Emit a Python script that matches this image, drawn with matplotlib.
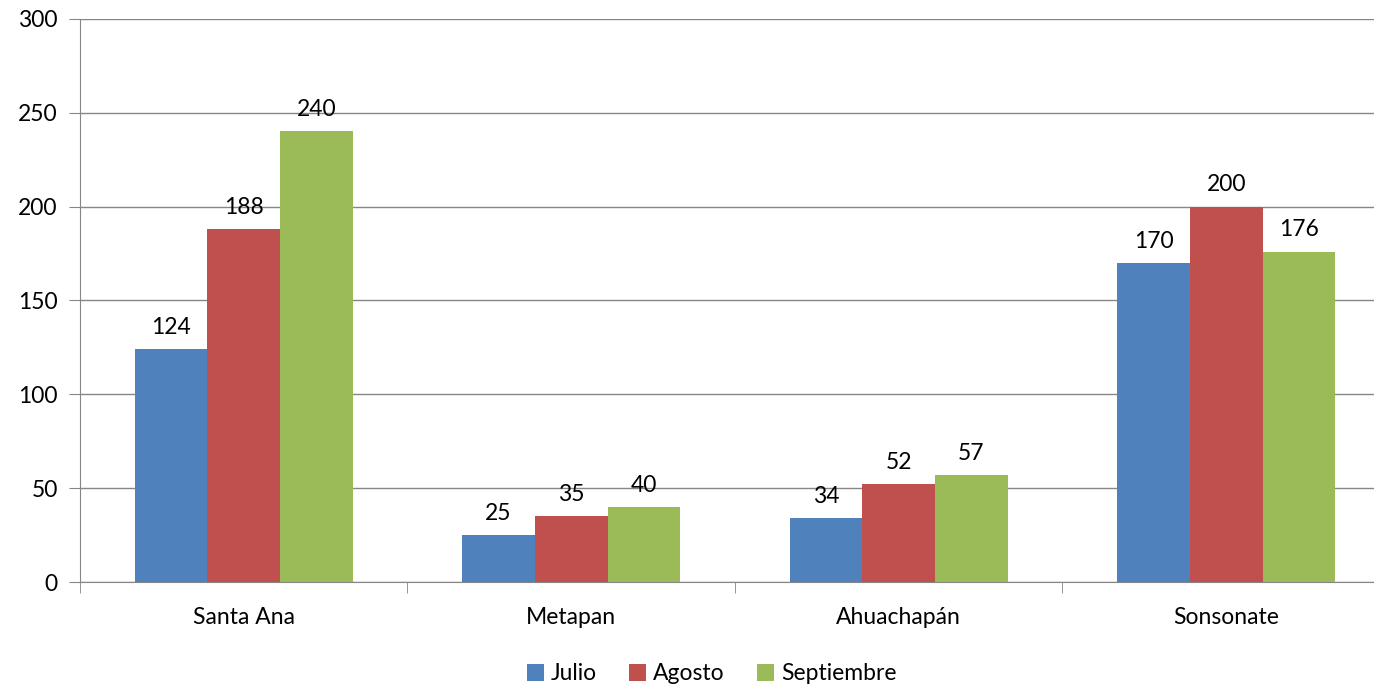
import matplotlib.pyplot as plt
import numpy as np

plt.rcParams['font.family'] = ['Lato', 'DejaVu Sans']

categories = ["Santa Ana", "Metapan", "Ahuachapán", "Sonsonate"]
julio = [124, 25, 34, 170]
agosto = [188, 35, 52, 200]
septiembre = [240, 40, 57, 176]
series_names = ["Julio", "Agosto", "Septiembre"]
colors = ["#4F81BD", "#C0504D", "#9BBB59"]

fig = plt.figure(figsize=(13.74, 6.91), dpi=100)
# axes continue past the right edge, as in the cropped original
ax = fig.add_axes([0.0582, 0.1577, 0.9534, 0.815])

x = np.arange(len(categories))
w = 0.222
for i, (vals, name, c) in enumerate(zip([julio, agosto, septiembre], series_names, colors)):
    pos = x + (i - 1) * w
    ax.bar(pos, vals, width=w, color=c, label=name, zorder=3)
    for p, v in zip(pos, vals):
        ax.text(p, v + 6, str(v), ha='center', va='bottom', fontsize=16.5, color='black')

ax.set_xlim(-0.5, len(categories) - 0.5)
ax.set_ylim(0, 300)
ax.set_yticks(range(0, 301, 50))
ax.yaxis.grid(True, color='#868686', linewidth=1, zorder=0)
ax.set_axisbelow(True)

ax.set_xticks(x)
ax.set_xticklabels(categories, fontsize=16.5)
ax.tick_params(axis='x', length=0, pad=18)
ax.set_xticks(np.arange(-0.5, len(categories), 1.0), minor=True)
ax.tick_params(axis='x', which='minor', length=8, color='#868686', direction='out')
ax.tick_params(axis='y', labelsize=16.5, length=8, color='#868686', pad=8)

for s in ['top', 'right']:
    ax.spines[s].set_visible(False)
for s in ['left', 'bottom']:
    ax.spines[s].set_color('#868686')

fig.legend(loc='lower center', bbox_to_anchor=(0.518, -0.02), ncol=3, frameon=False,
           fontsize=16.5, handlelength=0.75, handleheight=0.75, handletextpad=0.3,
           columnspacing=1.4)

fig.savefig("out.png", dpi=100)
